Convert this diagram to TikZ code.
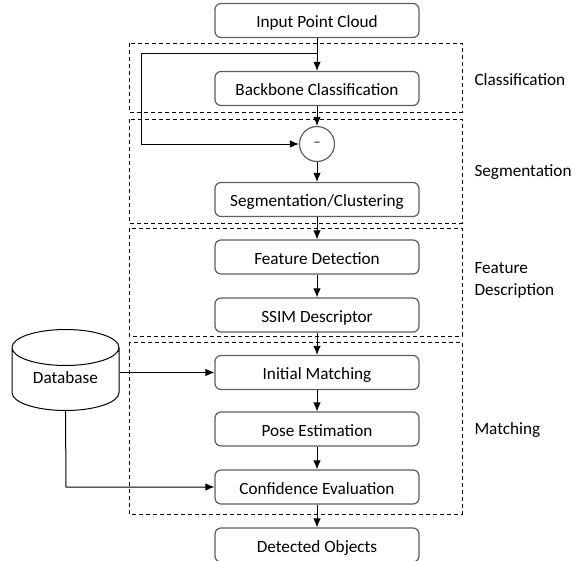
\documentclass[tikz,border=0pt]{standalone}
\usepackage{fontspec}
\setmainfont{Carlito}
\usetikzlibrary{arrows,arrows.meta,shapes.geometric}
\definecolor{boxline}{RGB}{95,95,95}

\begin{document}
\begin{tikzpicture}[x=1pt,y=-1pt,->,>={Latex[length=9pt,width=7.5pt]},line width=1pt,
    font=\fontsize{17.2}{22}\selectfont,
    box/.style={rectangle,draw=boxline,rounded corners=6pt,fill=white,
      minimum width=204pt,minimum height=34pt,inner sep=0pt,line width=1.2pt,
      text height=14pt,text depth=0pt},
    group/.style={-,draw,dashed,dash pattern=on 4pt off 3pt,line width=1pt},
    side/.style={anchor=west,align=left,inner sep=0pt}]
  \useasboundingbox (0,0) rectangle (576,560);

  % dashed stages
  \draw[group] (129,43) rectangle (462,112);
  \draw[group] (129,119) rectangle (462,223);
  \draw[group] (129,228) rectangle (462,336);
  \draw[group] (129,342) rectangle (462,514);
  \node[side] (cls) at (474,80) {Classification};
  \node[side] (seg) at (474,172) {Segmentation};
  \node[side] (desc) at (474,280.5) {Feature\\Description};
  \node[side] (mat) at (474,430) {Matching};

  % main chain
  \node[box] (input) at (317,20.5) {Input Point Cloud};
  \node[box] (backbone) at (317,88.5) {Backbone Classification};
  \node[circle,draw=boxline,minimum size=35pt,inner sep=0pt,fill=white,line width=1.2pt] (minus) at (317,144) {\fontsize{14}{14}\selectfont --};
  \node[box] (segclu) at (317,199.5) {Segmentation/Clustering};
  \node[box] (feat) at (317,257) {Feature Detection};
  \node[box] (ssim) at (317,315) {SSIM Descriptor};
  \node[box] (initial) at (317,372.5) {Initial Matching};
  \node[box] (pose) at (317,429) {Pose Estimation};
  \node[box] (conf) at (317,487) {Confidence Evaluation};
  \node[box] (detected) at (317,545) {Detected Objects};

  \node[cylinder,shape border rotate=90,draw=black,fill=white,anchor=south,
    minimum height=81pt,minimum width=107pt,aspect=3,inner sep=6pt] (db) at (65.5,411) {};
  \node[inner sep=0pt] (dbtext) at (65.5,378) {Database};

  \coordinate (split) at (317,53);
  \coordinate (fb) at (141,144);
  \coordinate (dbturn) at (66,487);

  \path
  (input) edge (backbone)
  (backbone) edge (minus)
  (minus) edge (segclu)
  (segclu) edge (feat)
  (feat) edge (ssim)
  (ssim) edge (initial)
  (initial) edge (pose)
  (pose) edge (conf)
  (conf) edge (detected);

  \draw (split) -| (fb) -- (minus);
  \draw (db.east |- initial) -- (initial.west);
  \draw (db.south) -- (dbturn) -- (conf.west);
\end{tikzpicture}
\end{document}
